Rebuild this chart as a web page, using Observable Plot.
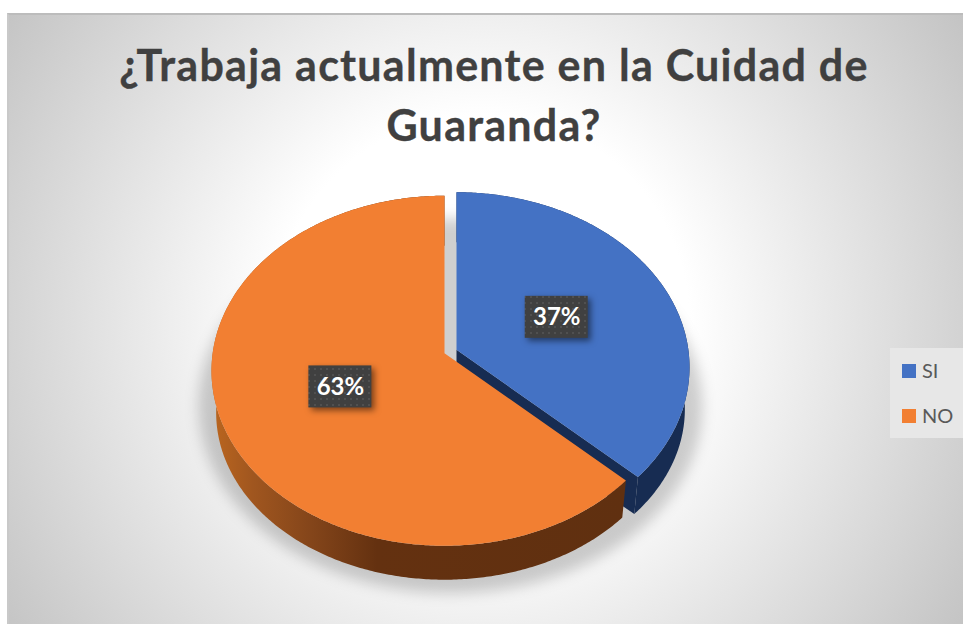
<!DOCTYPE html>
<html lang="es">
<head>
<meta charset="utf-8">
<script src="https://cdn.jsdelivr.net/npm/d3@7"></script>
<script src="https://cdn.jsdelivr.net/npm/@observablehq/plot@0.6"></script>
<style>
  html, body { margin: 0; padding: 0; background: #fff; }
  #wrap { position: relative; width: 963px; height: 624px; overflow: hidden; }
  #bg { position: absolute; left: 7px; top: 13px; right: 0; bottom: 0; box-sizing: border-box;
        border-top: 2px solid #bcbcbc; border-left: 2px solid #c9c9c9;
        background: radial-gradient(circle 575px at 473px 307px, #fff 0, #fff 36%, #c3c3c3 100%); }
  #chart { position: absolute; left: 0; top: 0; }
  #chart svg { display: block; }
  #title { position: absolute; left: 8px; width: 972px; top: 35px; text-align: center; color: #404040;
           font: 700 43px/60px Lato, sans-serif; letter-spacing: 1.25px; -webkit-text-stroke: 0.35px #404040; }
  #legend { position: absolute; left: 890px; top: 348px; width: 73px; height: 90px; background: #e7e7e7;
            font: 400 20px Lato, sans-serif; color: #595959; }
  #legend div { position: absolute; left: 12px; display: flex; align-items: center; height: 14px; }
  #legend i { display: block; width: 14px; height: 14px; margin-right: 6px; }
  #legend span { position: relative; top: -1px; }
</style>
</head>
<body>
<div id="wrap">
  <div id="bg"></div>
  <div id="chart"></div>
  <div id="title">¿Trabaja actualmente en la Cuidad de<br>Guaranda?</div>
  <div id="legend"></div>
</div>
<script>
// Data
const categories = ["SI", "NO"];
const percents = [37, 63];
const topColors = ["#4472c4", "#f27f32"];
const sideColors = ["#172c52", "url(#orangeSide)"];

// Pie view: unit disc seen in perspective
const tilt = 0.1;            // how far the disc centre appears above the ellipse centre
const explode = [[0.0258, 0.010], [-0.0258, -0.010]];
const bottom = {dy: -0.24, sx: 0.98, sy: 0.954};
const labelRadius = 0.48;

function project(angle, r, off, isBottom) {
  const X = r * Math.sin(angle), Y = r * Math.cos(angle);
  const d = 1 + tilt * Y;
  let px = X * Math.sqrt(1 - tilt * tilt) / d, py = (Y + tilt) / d;
  if (isBottom) { px *= bottom.sx; py = py * bottom.sy + bottom.dy; }
  return {x: px + off[0], y: py + off[1]};
}
function arcPoints(a0, a1, off, isBottom) {
  const n = Math.max(2, Math.ceil(Math.abs(a1 - a0) / 0.01));
  return d3.range(n + 1).map(i => project(a0 + (a1 - a0) * i / n, 1, off, isBottom));
}

const total = d3.sum(percents);
let running = 0;
const slices = categories.map((name, i) => {
  const a0 = running / total * 2 * Math.PI;
  running += percents[i];
  const a1 = running / total * 2 * Math.PI;
  return {name, a0, a1, off: explode[i], value: percents[i], top: topColors[i], side: sideColors[i]};
});

function facePath(s) {
  return [project(0, 0, s.off, false), ...arcPoints(s.a0, s.a1, s.off, false), project(0, 0, s.off, false)];
}
function sidePath(s) {
  return [...arcPoints(s.a0, s.a1, s.off, false), ...arcPoints(s.a1, s.a0, s.off, true)];
}
function wallPath(s) {
  return [project(0, 0, s.off, false), project(s.a1, 1, s.off, false),
          project(s.a1, 1, s.off, true), project(0, 0, s.off, true)];
}
const lineOpts = (fill, extra = {}) => ({x: "x", y: "y", fill, stroke: "none", curve: "linear", ...extra});

// Shadow beneath the pie
const shadow = d3.range(0, 2 * Math.PI + 0.02, 0.02).map(a => ({
  x: 1.08 * Math.sin(a), y: -0.21 + 1.07 * Math.cos(a)
}));

// Label boxes
const boxHalf = {x: 31.5 / 233, y: 21 / 175};
const labels = slices.map(s => {
  const p = project((s.a0 + s.a1) / 2, labelRadius, s.off, false);
  return {...p, text: s.value + "%"};
});

function defs() {
  const d = d3.create("svg:defs");
  const g = d.append("linearGradient").attr("id", "orangeSide");
  [[0, "#bb661f"], [0.1, "#a0561f"], [0.24, "#84451a"], [0.4, "#643110"], [1, "#603010"]]
    .forEach(([o, c]) => g.append("stop").attr("offset", o).attr("stop-color", c));
  const p = d.append("pattern").attr("id", "dots").attr("width", 6).attr("height", 6)
    .attr("patternUnits", "userSpaceOnUse");
  p.append("rect").attr("width", 6).attr("height", 6).attr("fill", "#404040");
  p.append("rect").attr("x", 2).attr("y", 2).attr("width", 2).attr("height", 2).attr("fill", "#505050");
  return d.node();
}

const plot = Plot.plot({
  width: 963,
  height: 624,
  margin: 0,
  style: {background: "transparent"},
  x: {axis: null, domain: [-450 / 233, 513 / 233], range: [0, 963]},
  y: {axis: null, domain: [368.5 / 175, -255.5 / 175], range: [0, 624]},
  marks: [
    defs,
    Plot.line(shadow, lineOpts("#000", {fillOpacity: 0.19, imageFilter: "blur(7px)"})),
    Plot.line(sidePath(slices[0]), lineOpts(slices[0].side)),
    Plot.line(wallPath(slices[0]), lineOpts(slices[0].side)),
    Plot.line(facePath(slices[0]), lineOpts(slices[0].top)),
    Plot.line(sidePath(slices[1]), lineOpts(slices[1].side)),
    Plot.line(facePath(slices[1]), lineOpts(slices[1].top)),
    Plot.rect(labels, {
      x1: d => d.x - boxHalf.x, x2: d => d.x + boxHalf.x,
      y1: d => d.y - boxHalf.y, y2: d => d.y + boxHalf.y,
      fill: "url(#dots)",
      imageFilter: "drop-shadow(3px 3px 3px rgba(0,0,0,0.5))"
    }),
    Plot.text(labels, {
      x: "x", y: "y", text: "text", fill: "#fff",
      fontFamily: "Lato, sans-serif", fontWeight: 700, fontSize: 24
    })
  ]
});
document.getElementById("chart").append(plot);

const legend = document.getElementById("legend");
categories.forEach((name, i) => {
  const row = document.createElement("div");
  row.style.top = (16 + i * 45) + "px";
  const swatch = document.createElement("i");
  swatch.style.background = topColors[i];
  const label = document.createElement("span");
  label.textContent = name;
  row.append(swatch, label);
  legend.append(row);
});
</script>
</body>
</html>
